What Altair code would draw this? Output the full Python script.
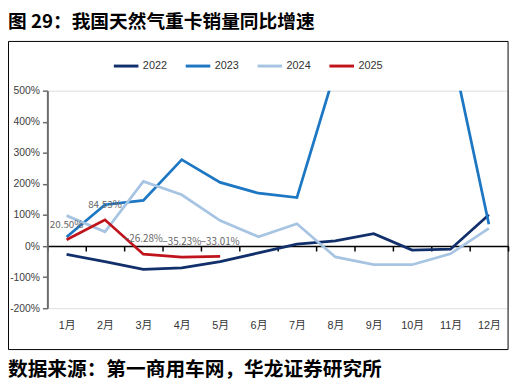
import altair as alt
import pandas as pd

months = ["1月", "2月", "3月", "4月", "5月", "6月", "7月", "8月", "9月", "10月", "11月", "12月"]
series = ["2022", "2023", "2024", "2025"]
v2022 = [-27, -50, -75, -70, -50, -22, 6, 17, 40, -13, -10, 101]
v2023 = [29, 133, 147, 278, 205, 170, 156, 565, 900, 1000, 650, 70]
v2024 = [98, 46, 208, 165, 82, 30, 72, -35, -60, -60, -25, 57]
v2025 = [20.50, 84.53, -26.28, -35.23, -33.01]
colors = ["#112f6b", "#1d77c3", "#a7c5e2", "#c0141c"]
y_ticks = [-200, -100, 0, 100, 200, 300, 400, 500]

title_text = "图 29：我国天然气重卡销量同比增速"
source_text = "数据来源：第一商用车网，华龙证券研究所"

rows = []
for name, vals in zip(series, [v2022, v2023, v2024, v2025]):
    for m, v in zip(months, vals):
        rows.append({"month": m, "series": name, "value": v})
df = pd.DataFrame(rows)
df25 = df[df["series"] == "2025"]

W, H = 468, 221
zero_offset = -H * 200 / 700

font_lat = "Liberation Sans, Noto Sans CJK SC"

x_enc = alt.X(
    "month:N",
    sort=months,
    bandPosition=0.5,
    scale=alt.Scale(type="band", paddingInner=0, paddingOuter=0),
    axis=alt.Axis(
        title=None,
        orient="bottom",
        offset=zero_offset,
        domainColor="#000000",
        domainWidth=1.5,
        tickBand="extent",
        tickColor="#000000",
        tickWidth=1.5,
        tickSize=5,
        labelPadding=70,
        labelFontSize=11,
        labelColor="#333333",
        labelFont=font_lat,
        labelAngle=0,
        grid=False,
    ),
)
y_enc = alt.Y(
    "value:Q",
    scale=alt.Scale(domain=[-200, 500], nice=False),
    axis=alt.Axis(
        title=None,
        values=y_ticks,
        labelExpr="datum.value + '%'",
        labelOverlap=False,
        domainColor="#6b6b6b",
        domainWidth=2,
        tickColor="#6b6b6b",
        tickWidth=1.5,
        tickSize=5,
        labelFontSize=10.5,
        labelColor="#404040",
        labelFont=font_lat,
        labelPadding=3,
        grid=False,
    ),
)

lines = alt.Chart(df).mark_line(clip=True, strokeWidth=2.8).encode(
    x=x_enc,
    y=y_enc,
    color=alt.Color(
        "series:N",
        scale=alt.Scale(domain=series, range=colors),
        legend=alt.Legend(
            title=None,
            orient="none",
            legendX=66,
            legendY=-39,
            direction="horizontal",
            symbolType="stroke",
            symbolSize=625,
            symbolStrokeWidth=3,
            labelFontSize=11,
            labelColor="#333333",
            labelFont=font_lat,
            labelOffset=3,
            columnPadding=12,
        ),
    ),
    order=alt.Order("month_idx:Q"),
).transform_calculate(month_idx="indexof(" + str(months) + ", datum.month)")

labels = alt.Chart(df25).mark_text(
    dy=-15, fontSize=10, color="#666666", font="Noto Sans CJK SC"
).transform_calculate(
    label="format(datum.value, '.2f') + '%'"
).encode(
    x=x_enc,
    y=y_enc,
    text="label:N",
)

frame = alt.Chart(pd.DataFrame({"a": [0]})).mark_rect(
    filled=False, stroke="#000000", strokeWidth=1
).encode(
    x=alt.value(-39.5), x2=alt.value(468), y=alt.value(-50), y2=alt.value(263)
)

title = alt.Chart(pd.DataFrame({"t": [title_text]})).mark_text(
    align="left", baseline="middle", fontSize=19, fontWeight="bold",
    font="Noto Sans CJK SC", color="#000000"
).encode(x=alt.value(-40), y=alt.value(-69.5), text="t:N")

source = alt.Chart(pd.DataFrame({"t": [source_text]})).mark_text(
    align="left", baseline="middle", fontSize=20, fontWeight="bold",
    font="Noto Sans CJK SC", color="#000000"
).encode(x=alt.value(-40), y=alt.value(283.5), text="t:N")

chart = alt.layer(frame, lines, labels, title, source).properties(
    width=W,
    height=H,
    padding={"left": 40, "top": 81, "right": 5, "bottom": 74},
    autosize=alt.AutoSizeParams(type="none"),
).configure_view(stroke=None).configure(background="#ffffff")

chart.save("out.html", embed_options={"renderer": "svg", "actions": False})
